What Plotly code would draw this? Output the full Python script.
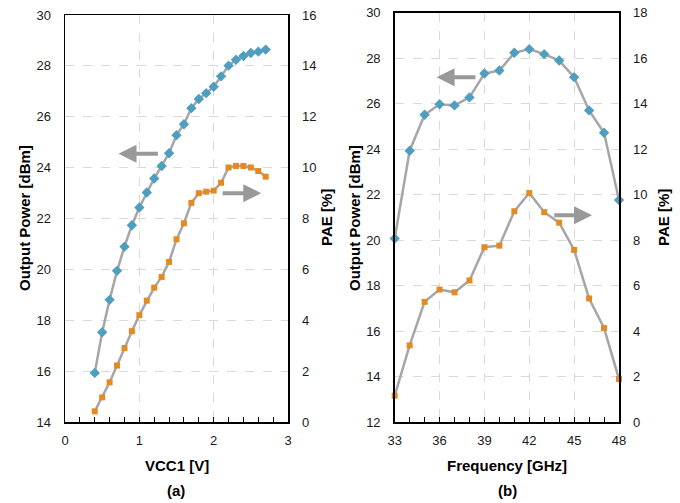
import plotly.graph_objects as go

# ---- data (a) ----
vcc1 = [0.4, 0.5, 0.6, 0.7, 0.8, 0.9, 1.0, 1.1, 1.2, 1.3, 1.4, 1.5,
        1.6, 1.7, 1.8, 1.9, 2.0, 2.1, 2.2, 2.3, 2.4, 2.5, 2.6, 2.7]
pout_a = [15.94, 17.54, 18.81, 19.95, 20.90, 21.74, 22.44, 23.03, 23.58, 24.07, 24.57, 25.28,
          25.71, 26.34, 26.70, 26.93, 27.18, 27.59, 28.01, 28.24, 28.39, 28.51, 28.56, 28.64]
pae_a = [0.43, 0.98, 1.57, 2.23, 2.92, 3.58, 4.21, 4.78, 5.29, 5.71, 6.30, 7.19,
         7.82, 8.62, 9.00, 9.06, 9.10, 9.41, 10.01, 10.07, 10.07, 10.01, 9.87, 9.65]

# ---- data (b) ----
freq = [33, 34, 35, 36, 37, 38, 39, 40, 41, 42, 43, 44, 45, 46, 47, 48]
pout_b = [20.07, 23.93, 25.51, 25.97, 25.92, 26.27, 27.32, 27.45, 28.23, 28.39, 28.17, 27.89,
          27.16, 25.70, 24.72, 21.76]
pae_b = [1.17, 3.38, 5.29, 5.83, 5.71, 6.23, 7.69, 7.76, 9.27, 10.07, 9.23, 8.77,
         7.57, 5.44, 4.14, 1.90]

W, H = 680, 503
LINE = "#a6a6a6"
BLUE = "#4f9ec0"
ORANGE = "#e38a22"
FONT = "Liberation Sans, Arial, sans-serif"
TICKC = "#1a1a1a"

def px(x):
    return x / W

def py(y):
    return (H - y) / H

fig = go.Figure()

def add(x, y, xa, ya, color, symbol, size):
    fig.add_trace(go.Scatter(
        x=x, y=y, xaxis=xa, yaxis=ya, mode="lines+markers",
        line=dict(color=LINE, width=2.5),
        marker=dict(color=color, symbol=symbol, size=size, line=dict(width=0)),
        showlegend=False, hoverinfo="skip", cliponaxis=False))

add(vcc1, pout_a, "x", "y", BLUE, "diamond", 8)
add(vcc1, pae_a, "x", "y2", ORANGE, "square", 6)
add(freq, pout_b, "x2", "y3", BLUE, "diamond", 8)
add(freq, pae_b, "x2", "y4", ORANGE, "square", 6)

tickfont = dict(family=FONT, size=13, color=TICKC)
grid = dict(showgrid=True, gridcolor="#d9d9d9", griddash="dash", gridwidth=1)

def xaxis(dom, rng, dtick, minor, anchor):
    return dict(domain=dom, range=rng, dtick=dtick, tick0=rng[0], anchor=anchor,
                showline=True, linecolor="black", linewidth=1.5, mirror=True,
                ticks="inside", ticklen=5, tickcolor="black", tickwidth=1,
                minor=dict(dtick=minor, ticks="inside", ticklen=5, tickcolor="black", showgrid=False),
                tickfont=tickfont, zeroline=False, ticklabelstandoff=6,
                automargin=False, fixedrange=True, **grid)

def yaxis(dom, rng, dtick, anchor, side="left", overlay=None, showgrid=True):
    d = dict(domain=dom, range=rng, dtick=dtick, anchor=anchor, side=side,
             showline=True, linecolor="black", linewidth=1.5, ticks="",
             tickfont=tickfont, zeroline=False, ticklabelstandoff=10,
             automargin=False, fixedrange=True)
    if showgrid:
        d.update(grid)
    else:
        d["showgrid"] = False
    if overlay:
        d["overlaying"] = overlay
    return d

ydom_a = [py(422.3), py(15)]
ydom_b = [py(422.3), py(12.5)]

fig.update_layout(
    width=W, height=H, margin=dict(l=0, r=0, t=0, b=0, autoexpand=False),
    paper_bgcolor="white", plot_bgcolor="white", hovermode=False, dragmode=False,
    xaxis=xaxis([px(65), px(288)], [0, 3], 1, 0.2, "y"),
    yaxis=yaxis(ydom_a, [14, 30], 2, "x"),
    yaxis2=yaxis(ydom_a, [0, 16], 2, "x", side="right", overlay="y", showgrid=False),
    xaxis2=xaxis([px(394.7), px(619)], [33, 48], 3, 1, "y3"),
    yaxis3=yaxis(ydom_b, [12, 30], 2, "x2"),
    yaxis4=yaxis(ydom_b, [0, 18], 2, "x2", side="right", overlay="y3", showgrid=False),
)

titlefont = dict(family=FONT, size=15, color="black")

def label(text, x, y, angle=0):
    fig.add_annotation(text="<b>%s</b>" % text,
                       x=px(x), y=py(y), xref="paper", yref="paper",
                       showarrow=False, textangle=angle, font=titlefont,
                       xanchor="center", yanchor="middle")

label("Output Power [dBm]", 24, 218, -90)
label("PAE [%]", 326, 218, -90)
label("Output Power [dBm]", 354, 218, -90)
label("PAE [%]", 663, 218, -90)
label("VCC1 [V]", 177, 465)
label("Frequency [GHz]", 507, 465)
label("(a)", 176, 490)
label("(b)", 507, 490)

def arrow(xr, yr, x_head, x_tail, yv):
    fig.add_annotation(x=x_head, y=yv, ax=x_tail, ay=yv, xref=xr, yref=yr,
                       axref=xr, ayref=yr, showarrow=True, arrowhead=2,
                       arrowsize=0.9, arrowwidth=4, arrowcolor="#999999", text="")

arrow("x", "y", 0.72, 1.27, 24.55)
arrow("x", "y2", 2.64, 2.10, 9.0)
arrow("x2", "y3", 35.8, 38.5, 27.16)
arrow("x2", "y4", 46.2, 43.57, 9.09)

fig.write_html("out.html", config={"displayModeBar": False, "staticPlot": True},
               post_script="document.body.style.margin='0';document.body.style.overflow='hidden';")
